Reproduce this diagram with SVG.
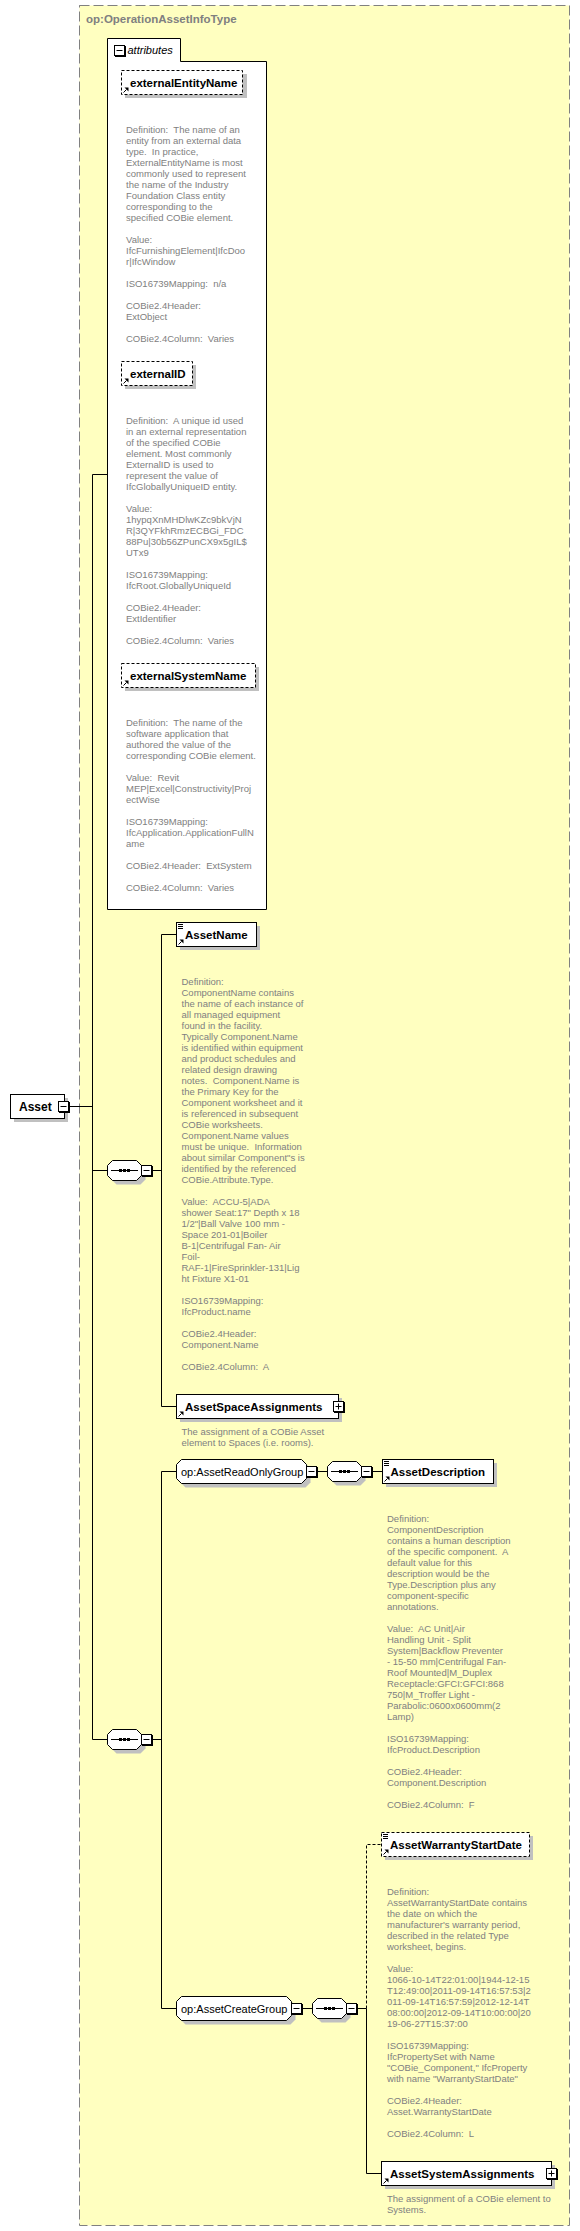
<svg xmlns="http://www.w3.org/2000/svg" xmlns:xlink="http://www.w3.org/1999/xlink" width="580" height="2231" viewBox="0 0 580 2231">
<style>
.doc{font-family:"Liberation Sans",Arial,sans-serif;font-size:9.5px;fill:#808080;white-space:pre}
.lbl{font-family:"Liberation Sans",Arial,sans-serif;font-size:11.5px;font-weight:bold;fill:#000}
.grp{font-family:"Liberation Sans",Arial,sans-serif;font-size:11px;fill:#000}
.ttl{font-family:"Liberation Sans",Arial,sans-serif;font-size:11.5px;font-weight:bold;fill:#808080}
.box{fill:#fff;stroke:#000;stroke-width:1}
.dbox{fill:#fff;stroke:#000;stroke-width:1;stroke-dasharray:3,2}
.shd{fill:#c0c0c0}
.conn{fill:none;stroke:#000;stroke-width:1}
.dash{stroke-dasharray:3,2}
</style>
<defs>
<g id="minus"><rect x="1" y="1" width="11" height="11" fill="#000"/><rect x="0.5" y="0.5" width="10" height="10" fill="#fff" stroke="#000"/><path d="M2.5,5.5H8.5" stroke="#000"/></g>
<g id="plus"><rect x="1" y="1" width="11" height="11" fill="#000"/><rect x="0.5" y="0.5" width="10" height="10" fill="#fff" stroke="#000"/><path d="M2.5,5.5H8.5M5.5,2.5V8.5" stroke="#000"/></g>
<g id="seq">
<polygon transform="translate(4,4)" class="shd" points="5.5,0.5 29.5,0.5 34.5,5.5 34.5,15.5 29.5,20.5 5.5,20.5 0.5,15.5 0.5,5.5"/>
<polygon class="box" points="5.5,0.5 29.5,0.5 34.5,5.5 34.5,15.5 29.5,20.5 5.5,20.5 0.5,15.5 0.5,5.5"/>
<path d="M4,10.5H31" stroke="#000"/>
<rect x="12" y="9" width="3" height="3" fill="#000"/><rect x="16" y="9" width="3" height="3" fill="#000"/><rect x="20" y="9" width="3" height="3" fill="#000"/>
<use xlink:href="#minus" x="34" y="5"/>
</g>
<g id="refarrow"><path d="M0.5,-0.5L3.5,-3.5" stroke="#000"/><path d="M1.5,-5.5H5.5V-1.5Z" fill="#000"/></g>
<g id="simple"><path d="M0,0.5H5M0,2.5H5M0,4.5H5" stroke="#000"/></g>
</defs>

<rect id="outer" x="79.5" y="5.5" width="490" height="2220" fill="#FFFFC0" stroke="#808080" stroke-dasharray="10,4"/>
<text class="ttl" x="86" y="23">op:OperationAssetInfoType</text>

<g id="connectors" class="conn">
<path d="M69,1106.5H92.5"/>
<path d="M92.5,474.5V1739.5"/>
<path d="M92.5,474.5H107.5"/>
<path d="M92.5,1170.5H107.5"/>
<path d="M92.5,1739.5H107.5"/>
<path d="M152,1170.5H161.5"/>
<path d="M161.5,934.5V1406.5"/>
<path d="M161.5,934.5H176.5"/>
<path d="M161.5,1406.5H176.5"/>
<path d="M152,1739.5H161.5"/>
<path d="M161.5,1471.5V2008.5"/>
<path d="M161.5,1471.5H176.5"/>
<path d="M161.5,2008.5H176.5"/>
<path d="M317,1471.5H327.5"/>
<path d="M373,1471.5H382.5"/>
<path d="M302,2008.5H312.5"/>
<path d="M358,2008.5H366.5"/>
<path class="dash" d="M366.5,2008.5V1844.5H381.5"/>
<path d="M366.5,2008.5V2173.5H381.5"/>
</g>

<g id="attributes">
<path class="box" d="M107.5,909.5V38.5H180.5V61.5H266.5V909.5Z"/>
<use xlink:href="#minus" x="114" y="45"/>
<text x="127.5" y="54" style="font-family:'Liberation Sans',Arial,sans-serif;font-size:11px;font-style:italic">attributes</text>
</g>

<g id="externalEntityName">
<rect class="shd" x="125" y="74" width="122" height="24"/>
<rect class="dbox" x="121.5" y="70.5" width="121" height="24"/>
<use xlink:href="#refarrow" x="123" y="93"/>
<text class="lbl" x="130" y="87">externalEntityName</text>
<text class="doc"><tspan x="126" y="132.5">Definition:  The name of an</tspan><tspan x="126" y="143.5">entity from an external data</tspan><tspan x="126" y="154.5">type.  In practice,</tspan><tspan x="126" y="165.5">ExternalEntityName is most</tspan><tspan x="126" y="176.5">commonly used to represent</tspan><tspan x="126" y="187.5">the name of the Industry</tspan><tspan x="126" y="198.5">Foundation Class entity</tspan><tspan x="126" y="209.5">corresponding to the</tspan><tspan x="126" y="220.5">specified COBie element.</tspan><tspan x="126" y="242.5">Value:</tspan><tspan x="126" y="253.5">IfcFurnishingElement|IfcDoo</tspan><tspan x="126" y="264.5">r|IfcWindow</tspan><tspan x="126" y="286.5">ISO16739Mapping:  n/a</tspan><tspan x="126" y="308.5">COBie2.4Header:</tspan><tspan x="126" y="319.5">ExtObject</tspan><tspan x="126" y="341.5">COBie2.4Column:  Varies</tspan></text>
</g>

<g id="externalID">
<rect class="shd" x="125" y="365" width="71" height="24"/>
<rect class="dbox" x="121.5" y="361.5" width="71" height="24"/>
<use xlink:href="#refarrow" x="123" y="384"/>
<text class="lbl" x="130" y="378">externalID</text>
<text class="doc"><tspan x="126" y="423.5">Definition:  A unique id used</tspan><tspan x="126" y="434.5">in an external representation</tspan><tspan x="126" y="445.5">of the specified COBie</tspan><tspan x="126" y="456.5">element. Most commonly</tspan><tspan x="126" y="467.5">ExternalID is used to</tspan><tspan x="126" y="478.5">represent the value of</tspan><tspan x="126" y="489.5">IfcGloballyUniqueID entity.</tspan><tspan x="126" y="511.5">Value:</tspan><tspan x="126" y="522.5">1hypqXnMHDlwKZc9bkVjN</tspan><tspan x="126" y="533.5">R|3QYFkhRmzECBGi_FDC</tspan><tspan x="126" y="544.5">88Pu|30b56ZPunCX9x5gIL$</tspan><tspan x="126" y="555.5">UTx9</tspan><tspan x="126" y="577.5">ISO16739Mapping:</tspan><tspan x="126" y="588.5">IfcRoot.GloballyUniqueId</tspan><tspan x="126" y="610.5">COBie2.4Header:</tspan><tspan x="126" y="621.5">ExtIdentifier</tspan><tspan x="126" y="643.5">COBie2.4Column:  Varies</tspan></text>
</g>

<g id="externalSystemName">
<rect class="shd" x="125" y="667" width="134" height="24"/>
<rect class="dbox" x="121.5" y="663.5" width="134" height="24"/>
<use xlink:href="#refarrow" x="123" y="686"/>
<text class="lbl" x="130" y="680">externalSystemName</text>
<text class="doc"><tspan x="126" y="725.5">Definition:  The name of the</tspan><tspan x="126" y="736.5">software application that</tspan><tspan x="126" y="747.5">authored the value of the</tspan><tspan x="126" y="758.5">corresponding COBie element.</tspan><tspan x="126" y="780.5">Value:  Revit</tspan><tspan x="126" y="791.5">MEP|Excel|Constructivity|Proj</tspan><tspan x="126" y="802.5">ectWise</tspan><tspan x="126" y="824.5">ISO16739Mapping:</tspan><tspan x="126" y="835.5">IfcApplication.ApplicationFullN</tspan><tspan x="126" y="846.5">ame</tspan><tspan x="126" y="868.5">COBie2.4Header:  ExtSystem</tspan><tspan x="126" y="890.5">COBie2.4Column:  Varies</tspan></text>
</g>

<g id="Asset">
<rect class="shd" x="14" y="1098" width="54" height="24"/>
<rect class="box" x="10.5" y="1094.5" width="54" height="24"/>
<text class="lbl" style="font-size:12px" x="19" y="1111">Asset</text>
<use xlink:href="#minus" x="58" y="1101"/>
</g>

<g id="sequence1"><use xlink:href="#seq" x="107" y="1160"/></g>

<g id="AssetName">
<rect class="shd" x="180" y="926" width="80" height="24"/>
<rect class="box" x="176.5" y="922.5" width="80" height="24"/>
<use xlink:href="#simple" x="178" y="924"/>
<use xlink:href="#refarrow" x="178" y="945"/>
<text class="lbl" x="185" y="938.5">AssetName</text>
<text class="doc"><tspan x="181.5" y="984.5">Definition:</tspan><tspan x="181.5" y="995.5">ComponentName contains</tspan><tspan x="181.5" y="1006.5">the name of each instance of</tspan><tspan x="181.5" y="1017.5">all managed equipment</tspan><tspan x="181.5" y="1028.5">found in the facility.</tspan><tspan x="181.5" y="1039.5">Typically Component.Name</tspan><tspan x="181.5" y="1050.5">is identified within equipment</tspan><tspan x="181.5" y="1061.5">and product schedules and</tspan><tspan x="181.5" y="1072.5">related design drawing</tspan><tspan x="181.5" y="1083.5">notes.  Component.Name is</tspan><tspan x="181.5" y="1094.5">the Primary Key for the</tspan><tspan x="181.5" y="1105.5">Component worksheet and it</tspan><tspan x="181.5" y="1116.5">is referenced in subsequent</tspan><tspan x="181.5" y="1127.5">COBie worksheets.</tspan><tspan x="181.5" y="1138.5">Component.Name values</tspan><tspan x="181.5" y="1149.5">must be unique.  Information</tspan><tspan x="181.5" y="1160.5">about similar Component"s is</tspan><tspan x="181.5" y="1171.5">identified by the referenced</tspan><tspan x="181.5" y="1182.5">COBie.Attribute.Type.</tspan><tspan x="181.5" y="1204.5">Value:  ACCU-5|ADA</tspan><tspan x="181.5" y="1215.5">shower Seat:17" Depth x 18</tspan><tspan x="181.5" y="1226.5">1/2"|Ball Valve 100 mm -</tspan><tspan x="181.5" y="1237.5">Space 201-01|Boiler</tspan><tspan x="181.5" y="1248.5">B-1|Centrifugal Fan- Air</tspan><tspan x="181.5" y="1259.5">Foil-</tspan><tspan x="181.5" y="1270.5">RAF-1|FireSprinkler-131|Lig</tspan><tspan x="181.5" y="1281.5">ht Fixture X1-01</tspan><tspan x="181.5" y="1303.5">ISO16739Mapping:</tspan><tspan x="181.5" y="1314.5">IfcProduct.name</tspan><tspan x="181.5" y="1336.5">COBie2.4Header:</tspan><tspan x="181.5" y="1347.5">Component.Name</tspan><tspan x="181.5" y="1369.5">COBie2.4Column:  A</tspan></text>
</g>

<g id="AssetSpaceAssignments">
<rect class="shd" x="180" y="1398" width="162" height="24"/>
<rect class="box" x="176.5" y="1394.5" width="162" height="24"/>
<use xlink:href="#refarrow" x="178" y="1417"/>
<text class="lbl" x="185" y="1410.5">AssetSpaceAssignments</text>
<use xlink:href="#plus" x="333" y="1401"/>
<text class="doc"><tspan x="181.5" y="1434.5">The assignment of a COBie Asset</tspan><tspan x="181.5" y="1445.5">element to Spaces (i.e. rooms).</tspan></text>
</g>

<g id="sequence2"><use xlink:href="#seq" x="107" y="1729"/></g>

<g id="AssetReadOnlyGroup">
<polygon class="shd" points="185.5,1463.5 305.5,1463.5 310.5,1468.5 310.5,1482.5 305.5,1487.5 185.5,1487.5 180.5,1482.5 180.5,1468.5"/>
<polygon class="box" points="181.5,1459.5 301.5,1459.5 306.5,1464.5 306.5,1478.5 301.5,1483.5 181.5,1483.5 176.5,1478.5 176.5,1464.5"/>
<text class="grp" x="181" y="1475.5">op:AssetReadOnlyGroup</text>
<use xlink:href="#minus" x="306" y="1466"/>
</g>

<g id="sequence3"><use xlink:href="#seq" x="327" y="1461"/></g>

<g id="AssetDescription">
<rect class="shd" x="386" y="1463" width="111" height="24"/>
<rect class="box" x="382.5" y="1459.5" width="111" height="24"/>
<use xlink:href="#simple" x="384" y="1461"/>
<use xlink:href="#refarrow" x="384" y="1482"/>
<text class="lbl" x="390.5" y="1475.5">AssetDescription</text>
<text class="doc"><tspan x="387" y="1521.5">Definition:</tspan><tspan x="387" y="1532.5">ComponentDescription</tspan><tspan x="387" y="1543.5">contains a human description</tspan><tspan x="387" y="1554.5">of the specific component.  A</tspan><tspan x="387" y="1565.5">default value for this</tspan><tspan x="387" y="1576.5">description would be the</tspan><tspan x="387" y="1587.5">Type.Description plus any</tspan><tspan x="387" y="1598.5">component-specific</tspan><tspan x="387" y="1609.5">annotations.</tspan><tspan x="387" y="1631.5">Value:  AC Unit|Air</tspan><tspan x="387" y="1642.5">Handling Unit - Split</tspan><tspan x="387" y="1653.5">System|Backflow Preventer</tspan><tspan x="387" y="1664.5">- 15-50 mm|Centrifugal Fan-</tspan><tspan x="387" y="1675.5">Roof Mounted|M_Duplex</tspan><tspan x="387" y="1686.5">Receptacle:GFCI:GFCI:868</tspan><tspan x="387" y="1697.5">750|M_Troffer Light -</tspan><tspan x="387" y="1708.5">Parabolic:0600x0600mm(2</tspan><tspan x="387" y="1719.5">Lamp)</tspan><tspan x="387" y="1741.5">ISO16739Mapping:</tspan><tspan x="387" y="1752.5">IfcProduct.Description</tspan><tspan x="387" y="1774.5">COBie2.4Header:</tspan><tspan x="387" y="1785.5">Component.Description</tspan><tspan x="387" y="1807.5">COBie2.4Column:  F</tspan></text>
</g>

<g id="AssetCreateGroup">
<polygon class="shd" points="185.5,2000.5 290.5,2000.5 295.5,2005.5 295.5,2019.5 290.5,2024.5 185.5,2024.5 180.5,2019.5 180.5,2005.5"/>
<polygon class="box" points="181.5,1996.5 286.5,1996.5 291.5,2001.5 291.5,2015.5 286.5,2020.5 181.5,2020.5 176.5,2015.5 176.5,2001.5"/>
<text class="grp" x="181" y="2012.5">op:AssetCreateGroup</text>
<use xlink:href="#minus" x="291" y="2003"/>
</g>

<g id="sequence4"><use xlink:href="#seq" x="312" y="1998"/></g>

<g id="AssetWarrantyStartDate">
<rect class="shd" x="385" y="1836" width="148" height="24"/>
<rect class="dbox" x="381.5" y="1832.5" width="148" height="24"/>
<use xlink:href="#simple" x="383" y="1834"/>
<use xlink:href="#refarrow" x="383" y="1855"/>
<text class="lbl" x="390" y="1848.5">AssetWarrantyStartDate</text>
<text class="doc"><tspan x="387" y="1894.5">Definition:</tspan><tspan x="387" y="1905.5">AssetWarrantyStartDate contains</tspan><tspan x="387" y="1916.5">the date on which the</tspan><tspan x="387" y="1927.5">manufacturer's warranty period,</tspan><tspan x="387" y="1938.5">described in the related Type</tspan><tspan x="387" y="1949.5">worksheet, begins.</tspan><tspan x="387" y="1971.5">Value:</tspan><tspan x="387" y="1982.5">1066-10-14T22:01:00|1944-12-15</tspan><tspan x="387" y="1993.5">T12:49:00|2011-09-14T16:57:53|2</tspan><tspan x="387" y="2004.5">011-09-14T16:57:59|2012-12-14T</tspan><tspan x="387" y="2015.5">08:00:00|2012-09-14T10:00:00|20</tspan><tspan x="387" y="2026.5">19-06-27T15:37:00</tspan><tspan x="387" y="2048.5">ISO16739Mapping:</tspan><tspan x="387" y="2059.5">IfcPropertySet with Name</tspan><tspan x="387" y="2070.5">"COBie_Component," IfcProperty</tspan><tspan x="387" y="2081.5">with name "WarrantyStartDate"</tspan><tspan x="387" y="2103.5">COBie2.4Header:</tspan><tspan x="387" y="2114.5">Asset.WarrantyStartDate</tspan><tspan x="387" y="2136.5">COBie2.4Column:  L</tspan></text>
</g>

<g id="AssetSystemAssignments">
<rect class="shd" x="385" y="2165" width="170" height="24"/>
<rect class="box" x="381.5" y="2161.5" width="170" height="24"/>
<use xlink:href="#refarrow" x="383" y="2184"/>
<text class="lbl" x="390" y="2177.5">AssetSystemAssignments</text>
<use xlink:href="#plus" x="546" y="2168"/>
<text class="doc"><tspan x="387" y="2201.5">The assignment of a COBie element to</tspan><tspan x="387" y="2212.5">Systems.</tspan></text>
</g>
</svg>
